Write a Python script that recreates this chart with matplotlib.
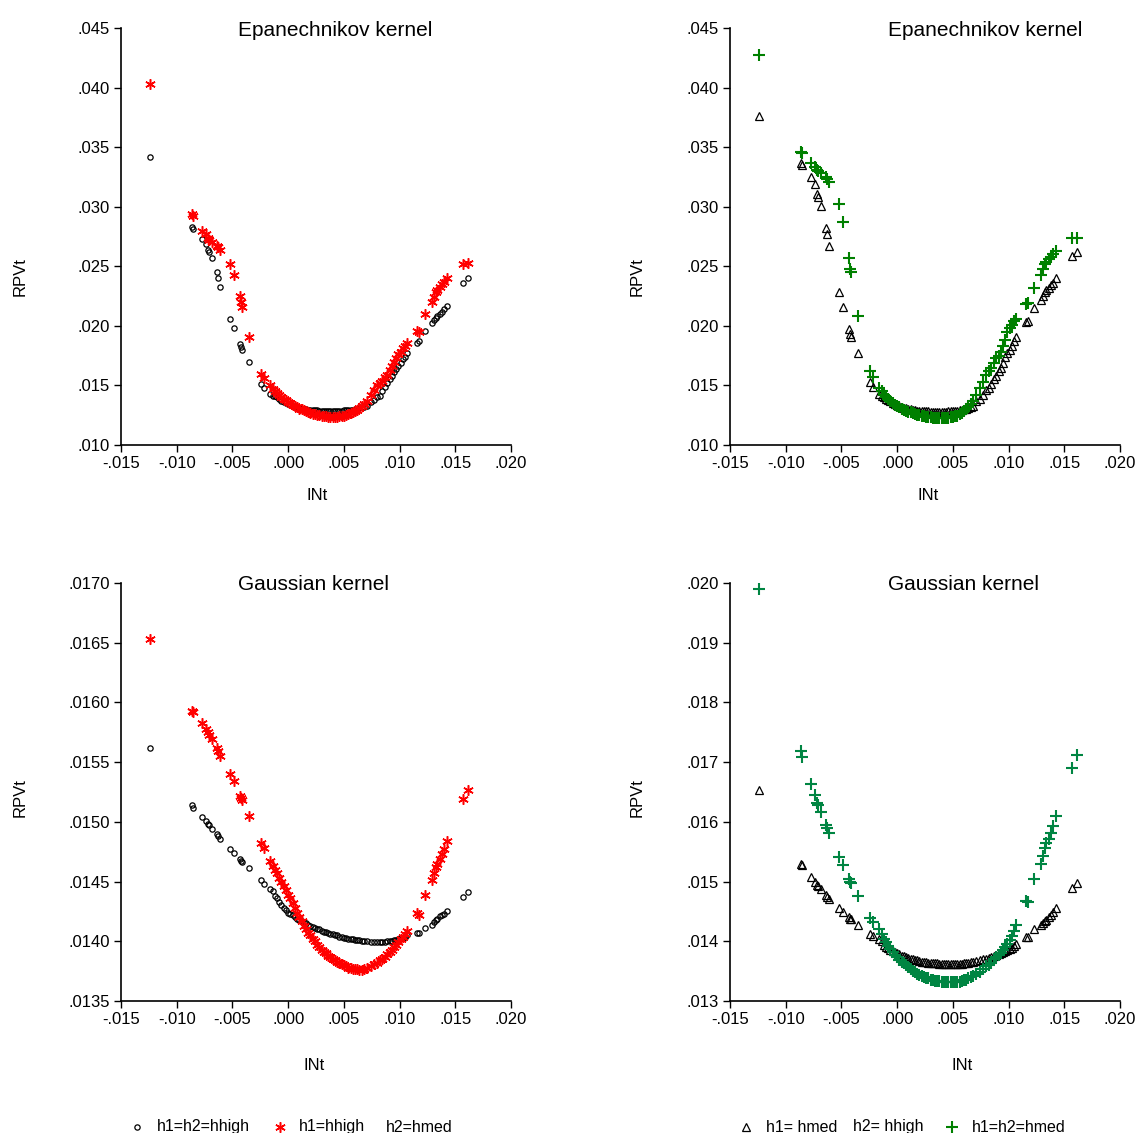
import matplotlib
matplotlib.use("Agg")
import matplotlib.pyplot as plt
from matplotlib.lines import Line2D

plt.rcParams['font.family'] = ['Liberation Sans', 'DejaVu Sans']

# ---------------- data ----------------
int_t = [
    -0.0124, -0.0086, -0.0085, -0.0077, -0.0074, -0.0072, -0.0071, -0.0068, -0.0064, -0.0063,
    -0.0061, -0.0052, -0.0049, -0.0043, -0.0042, -0.0041, -0.0035, -0.0024, -0.0022, -0.0016,
    -0.0014,
    -0.0012, -0.0010, -0.0008, -0.0006, -0.0004, -0.0002, 0.0000, 0.0002, 0.0004, 0.0006,
    0.0008, 0.0010, 0.0012, 0.0014, 0.0016, 0.0018, 0.0020, 0.0022, 0.0024, 0.0026,
    0.0028, 0.0030, 0.0032, 0.0034, 0.0036, 0.0038, 0.0040, 0.0042, 0.0044, 0.0046,
    0.0048, 0.0050, 0.0052, 0.0054, 0.0056, 0.0058, 0.0060, 0.0062, 0.0064, 0.0066,
    0.0068,
    0.0071, 0.0074, 0.0077, 0.0080, 0.0082, 0.0084, 0.0087, 0.0089, 0.0091, 0.0093,
    0.0095, 0.0097, 0.0099, 0.0101, 0.0103, 0.0105, 0.0107,
    0.0116, 0.0117, 0.0123, 0.0129, 0.0131, 0.0133, 0.0134, 0.0136, 0.0138, 0.0140,
    0.0143, 0.0157, 0.0161,
]

# Epanechnikov, h1=h2=hhigh (black circles)
epa_hh = [
    0.0342, 0.0283, 0.0281, 0.0273, 0.0269, 0.0264, 0.0262, 0.0257, 0.0245, 0.0240,
    0.0233, 0.0206, 0.0198, 0.0185, 0.0182, 0.0180, 0.0170, 0.0151, 0.0148, 0.0143,
    0.0141,
    0.01415, 0.01400, 0.01386, 0.01373, 0.01362, 0.01352, 0.01343, 0.01335, 0.01328, 0.01321,
    0.01315, 0.01310, 0.01306, 0.01302, 0.01299, 0.01296, 0.01294, 0.01292, 0.01291, 0.01290,
    0.01289, 0.01288, 0.01288, 0.01287, 0.01287, 0.01287, 0.01287, 0.01287, 0.01288, 0.01288,
    0.01289, 0.01290, 0.01291, 0.01293, 0.01295, 0.01297, 0.01300, 0.01304, 0.01309, 0.01315,
    0.01322,
    0.0133, 0.0136, 0.0138, 0.0140, 0.0141, 0.0145, 0.0149, 0.0152, 0.0155, 0.0158,
    0.0161, 0.0164, 0.0166, 0.0169, 0.0172, 0.0174, 0.0177,
    0.0186, 0.0187, 0.0196, 0.0202, 0.0205, 0.0207, 0.0208, 0.0210, 0.0212, 0.0214,
    0.0217, 0.0236, 0.0240,
]

# Epanechnikov, h1=hhigh h2=hmed (red stars)
epa_hm = [
    0.0403, 0.0294, 0.0292, 0.0280, 0.0277, 0.0274, 0.0272, 0.0270, 0.0267, 0.0266,
    0.0264, 0.0252, 0.0243, 0.0225, 0.0220, 0.0216, 0.0191, 0.0160, 0.0156, 0.0150,
    0.0147,
    0.01450, 0.01435, 0.01418, 0.01403, 0.01390, 0.01375, 0.01362, 0.01350, 0.01338, 0.01327,
    0.01316, 0.01306, 0.01298, 0.01290, 0.01282, 0.01275, 0.01268, 0.01262, 0.01257, 0.01252,
    0.01248, 0.01245, 0.01242, 0.01240, 0.01238, 0.01237, 0.01237, 0.01237, 0.01238, 0.01240,
    0.01243, 0.01247, 0.01252, 0.01258, 0.01265, 0.01274, 0.01284, 0.01296, 0.01310, 0.01326,
    0.01343,
    0.0137, 0.0142, 0.0146, 0.0150, 0.0152, 0.0154, 0.0157, 0.0159, 0.0163, 0.0166,
    0.0170, 0.0173, 0.0176, 0.0178, 0.0181, 0.0183, 0.0186,
    0.0196, 0.0195, 0.0210, 0.0220, 0.0224, 0.0228, 0.0230, 0.0233, 0.0235, 0.0237,
    0.0240, 0.0252, 0.0253,
]

# Epanechnikov, h1=hmed h2=hhigh (triangles)
epa_mh = [
    0.0376, 0.0337, 0.0335, 0.0325, 0.0319, 0.0311, 0.0308, 0.0301, 0.0282, 0.0277,
    0.0267, 0.0228, 0.0216, 0.0197, 0.0193, 0.0191, 0.0177, 0.0153, 0.0149, 0.0143,
    0.0141,
    0.01400, 0.01390, 0.01380, 0.01366, 0.01353, 0.01342, 0.01333, 0.01325, 0.01318, 0.01312,
    0.01307, 0.01302, 0.01298, 0.01294, 0.01291, 0.01289, 0.01287, 0.01285, 0.01284, 0.01283,
    0.01282, 0.01281, 0.01281, 0.01280, 0.01280, 0.01280, 0.01280, 0.01281, 0.01281, 0.01282,
    0.01283, 0.01284, 0.01286, 0.01288, 0.01291, 0.01294, 0.01298, 0.01303, 0.01310, 0.01318,
    0.01328,
    0.0137, 0.0139, 0.0142, 0.0146, 0.0148, 0.0151, 0.0155, 0.0158, 0.0162, 0.0165,
    0.0169, 0.0174, 0.0177, 0.0180, 0.0183, 0.0187, 0.0191,
    0.0203, 0.0204, 0.0215, 0.0222, 0.0225, 0.0228, 0.0230, 0.0232, 0.0234, 0.0236,
    0.0240, 0.0259, 0.0262,
]

# Epanechnikov, h1=h2=hmed (green plus)
epa_mm = [
    0.0427, 0.0346, 0.0345, 0.0337, 0.0333, 0.0331, 0.0330, 0.0328, 0.0325, 0.0323,
    0.0321, 0.0302, 0.0287, 0.0257, 0.0248, 0.0245, 0.0208, 0.0162, 0.0157, 0.0148,
    0.0145,
    0.01420, 0.01400, 0.01382, 0.01366, 0.01352, 0.01339, 0.01327, 0.01316, 0.01306, 0.01297,
    0.01288, 0.01280, 0.01273, 0.01267, 0.01261, 0.01255, 0.01250, 0.01245, 0.01241, 0.01237,
    0.01234, 0.01231, 0.01229, 0.01227, 0.01226, 0.01225, 0.01225, 0.01226, 0.01227, 0.01229,
    0.01232, 0.01236, 0.01241, 0.01247, 0.01256, 0.01268, 0.01282, 0.01300, 0.01320, 0.01343,
    0.01368,
    0.0142, 0.0148, 0.0153, 0.0159, 0.0162, 0.0165, 0.0169, 0.0173, 0.0175, 0.0178,
    0.0183, 0.0188, 0.0195, 0.0198, 0.0201, 0.0204, 0.0206,
    0.0218, 0.0219, 0.0232, 0.0243, 0.0248, 0.0252, 0.0254, 0.0256, 0.0258, 0.0260,
    0.0263, 0.0274, 0.0274,
]

# Gaussian, h1=h2=hhigh (black circles)
gau_hh = [
    0.01562, 0.01514, 0.01512, 0.01504, 0.01501, 0.01498, 0.01497, 0.01494, 0.01490, 0.01488,
    0.01486, 0.01477, 0.01474, 0.01469, 0.01467, 0.01466, 0.01461, 0.01451, 0.01448, 0.01444,
    0.01442,
    0.01438, 0.01436, 0.01433, 0.01430, 0.01428, 0.01426, 0.01424, 0.01423, 0.01422, 0.01420,
    0.01419, 0.01418, 0.01417, 0.01416, 0.01415, 0.01414, 0.01413, 0.01412, 0.01411, 0.01410,
    0.01410, 0.01409, 0.01408, 0.01408, 0.01407, 0.01406, 0.01406, 0.01405, 0.01405, 0.01404,
    0.01404, 0.01403, 0.01403, 0.01402, 0.01402, 0.01402, 0.01401, 0.01401, 0.01401, 0.01400,
    0.01400,
    0.01400, 0.01399, 0.01399, 0.01399, 0.01399, 0.01399, 0.01399, 0.01400, 0.01400, 0.01400,
    0.01401, 0.01401, 0.01402, 0.01403, 0.01403, 0.01404, 0.01405,
    0.01407, 0.01407, 0.01411, 0.01414, 0.01416, 0.01418, 0.01419, 0.01421, 0.01422, 0.01423,
    0.01425, 0.01437, 0.01441,
]

# Gaussian, h1=hhigh h2=hmed (red stars)
gau_hm = [
    0.01653, 0.01593, 0.01592, 0.01583, 0.01578, 0.01575, 0.01573, 0.01569, 0.01562, 0.01559,
    0.01555, 0.01540, 0.01534, 0.01522, 0.01520, 0.01518, 0.01505, 0.01482, 0.01478, 0.01467,
    0.01463,
    0.01460, 0.01457, 0.01453, 0.01450, 0.01446, 0.01443, 0.01439, 0.01436, 0.01432, 0.01428,
    0.01424, 0.01420, 0.01417, 0.01413, 0.01410, 0.01407, 0.01405, 0.01402, 0.01400, 0.01397,
    0.01395, 0.01393, 0.01391, 0.01390, 0.01388, 0.01387, 0.01385, 0.01384, 0.01383, 0.01382,
    0.01381, 0.01380, 0.01379, 0.01378, 0.01378, 0.01377, 0.01377, 0.01377, 0.01376, 0.01376,
    0.01377,
    0.01378, 0.01379, 0.01381, 0.01382, 0.01384, 0.01385, 0.01387, 0.01389, 0.01391, 0.01393,
    0.01395, 0.01397, 0.01399, 0.01402, 0.01404, 0.01406, 0.01409,
    0.01424, 0.01422, 0.01439, 0.01451, 0.01457, 0.01462, 0.01465, 0.01469, 0.01473, 0.01477,
    0.01484, 0.01519, 0.01527,
]

# Gaussian, h1=hmed h2=hhigh (triangles)
gau_mh = [
    0.01653, 0.01530, 0.01528, 0.01508, 0.01499, 0.01494, 0.01492, 0.01487, 0.01478, 0.01474,
    0.01470, 0.01455, 0.01449, 0.01441, 0.01438, 0.01437, 0.01428, 0.01412, 0.01409, 0.01404,
    0.01400,
    0.01394, 0.01391, 0.01389, 0.01386, 0.01384, 0.01382, 0.01380, 0.01378, 0.01376, 0.01375,
    0.01373, 0.01372, 0.01371, 0.01370, 0.01369, 0.01368, 0.01367, 0.01366, 0.01366, 0.01365,
    0.01364, 0.01364, 0.01363, 0.01363, 0.01363, 0.01362, 0.01362, 0.01362, 0.01362, 0.01362,
    0.01362, 0.01362, 0.01362, 0.01362, 0.01362, 0.01362, 0.01363, 0.01363, 0.01364, 0.01365,
    0.01366,
    0.01367, 0.01368, 0.01370, 0.01371, 0.01372, 0.01374, 0.01375, 0.01377, 0.01378, 0.01380,
    0.01382, 0.01383, 0.01385, 0.01387, 0.01389, 0.01392, 0.01395,
    0.01407, 0.01408, 0.01420, 0.01427, 0.01430, 0.01434, 0.01436, 0.01440, 0.01444, 0.01449,
    0.01456, 0.01489, 0.01498,
]

# Gaussian, h1=h2=hmed (green plus)
gau_mm = [
    0.01990, 0.01718, 0.01709, 0.01664, 0.01645, 0.01632, 0.01628, 0.01616, 0.01594, 0.01589,
    0.01581, 0.01541, 0.01527, 0.01504, 0.01500, 0.01497, 0.01476, 0.01439, 0.01433, 0.01421,
    0.01412,
    0.01403, 0.01398, 0.01392, 0.01387, 0.01382, 0.01377, 0.01373, 0.01369, 0.01366, 0.01363,
    0.01360, 0.01357, 0.01354, 0.01351, 0.01349, 0.01346, 0.01344, 0.01342, 0.01340, 0.01339,
    0.01338, 0.01336, 0.01335, 0.01334, 0.01333, 0.01333, 0.01332, 0.01332, 0.01331, 0.01331,
    0.01331, 0.01331, 0.01331, 0.01332, 0.01332, 0.01333, 0.01335, 0.01336, 0.01338, 0.01340,
    0.01342,
    0.01345, 0.01349, 0.01354, 0.01358, 0.01361, 0.01364, 0.01370, 0.01373, 0.01377, 0.01381,
    0.01385, 0.01390, 0.01396, 0.01402, 0.01409, 0.01418, 0.01428,
    0.01468, 0.01466, 0.01504, 0.01530, 0.01543, 0.01556, 0.01564, 0.01572, 0.01582, 0.01593,
    0.01610, 0.01691, 0.01712,
]

x_ticks = [-0.015, -0.010, -0.005, 0.000, 0.005, 0.010, 0.015, 0.020]
x_ticklabels = ["-.015", "-.010", "-.005", ".000", ".005", ".010", ".015", ".020"]
epa_yticks = [0.010, 0.015, 0.020, 0.025, 0.030, 0.035, 0.040, 0.045]
epa_yticklabels = [".010", ".015", ".020", ".025", ".030", ".035", ".040", ".045"]
gl_yticks = [0.0135, 0.0140, 0.0145, 0.0150, 0.0155, 0.0160, 0.0165, 0.0170]
gl_yticklabels = [".0135", ".0140", ".0145", ".0150", ".0155", ".0160", ".0165", ".0170"]
gr_yticks = [0.013, 0.014, 0.015, 0.016, 0.017, 0.018, 0.019, 0.020]
gr_yticklabels = [".013", ".014", ".015", ".016", ".017", ".018", ".019", ".020"]

titles = ["Epanechnikov kernel", "Epanechnikov kernel", "Gaussian kernel", "Gaussian kernel"]
legend_left = ["h1=h2=hhigh", "h1=hhigh", "h2=hmed"]
legend_right = ["h1= hmed", "h2= hhigh", "h1=h2=hmed"]

# ---------------- styles ----------------
RED = "#FF0000"
GREEN_TOP = "#008000"
GREEN_BOT = "#008542"
STAR = (6, 2, 0)

circ_style = dict(marker="o", ms=3.8, mfc="none", mec="black", mew=0.9, ls="none")
star_style = dict(marker=STAR, ms=7.5, mec=RED, mfc=RED, mew=1.1, ls="none")
tri_style = dict(marker="^", ms=5.4, mfc="none", mec="black", mew=0.9, ls="none")
plus_kw = dict(ls="none", marker="+", ms=8.5, mew=1.5)

W, H = 1138, 1133
fig = plt.figure(figsize=(W / 100, H / 100), dpi=100)


def fx(px):
    return px / W


def fy(py):
    return 1 - py / H


def make_axes(left, top, right, bottom):
    return fig.add_axes([fx(left), fy(bottom), fx(right - left), (bottom - top) / H])


def style_axes(ax, yticks, ylabels):
    ax.set_xlim(x_ticks[0], x_ticks[-1])
    ax.set_ylim(yticks[0], yticks[-1])
    ax.set_xticks(x_ticks)
    ax.set_xticklabels(x_ticklabels)
    ax.set_yticks(yticks)
    ax.set_yticklabels(ylabels)
    for s in ["top", "right"]:
        ax.spines[s].set_visible(False)
    for s in ["left", "bottom"]:
        ax.spines[s].set_linewidth(1.2)
    ax.tick_params(direction="out", length=5, width=1.0, labelsize=12, pad=3)
    ax.patch.set_alpha(0)


ax1 = make_axes(121, 28, 511, 445)
ax2 = make_axes(730, 28, 1120, 445)
ax3 = make_axes(121, 583, 511, 1001)
ax4 = make_axes(730, 583, 1120, 1001)

ax1.plot(int_t, epa_hh, clip_on=False, **circ_style)
ax1.plot(int_t, epa_hm, clip_on=False, **star_style)
style_axes(ax1, epa_yticks, epa_yticklabels)

ax2.plot(int_t, epa_mh, clip_on=False, **tri_style)
ax2.plot(int_t, epa_mm, color=GREEN_TOP, clip_on=False, **plus_kw)
style_axes(ax2, epa_yticks, epa_yticklabels)

ax3.plot(int_t, gau_hh, clip_on=False, **circ_style)
ax3.plot(int_t, gau_hm, clip_on=False, **star_style)
style_axes(ax3, gl_yticks, gl_yticklabels)

ax4.plot(int_t, gau_mh, clip_on=False, **tri_style)
ax4.plot(int_t, gau_mm, color=GREEN_BOT, clip_on=False, **plus_kw)
style_axes(ax4, gr_yticks, gr_yticklabels)

# titles
title_pos = [(335, 30), (985, 30), (313, 585), (963, 584)]
for t, (px, py) in zip(titles, title_pos):
    fig.text(fx(px), fy(py), t, ha="center", va="center", fontsize=15)

# axis labels
for px, py in [(20, 277), (637, 277), (20, 798), (637, 798)]:
    fig.text(fx(px), fy(py), "RPVt", rotation=90, ha="center", va="center", fontsize=12)
for px, py in [(317, 495), (928, 495), (314, 1065), (962, 1065)]:
    fig.text(fx(px), fy(py), "INt", ha="center", va="center", fontsize=12)

# legends
ly = 1127
fig.add_artist(Line2D([fx(137)], [fy(ly)], transform=fig.transFigure, **circ_style))
fig.text(fx(157), fy(ly), legend_left[0], ha="left", va="center", fontsize=11.5)
fig.add_artist(Line2D([fx(280)], [fy(ly)], transform=fig.transFigure, **star_style))
fig.text(fx(299), fy(ly), legend_left[1], ha="left", va="center", fontsize=11.5)
fig.text(fx(386), fy(ly), legend_left[2], ha="left", va="center", fontsize=11.5)

fig.add_artist(Line2D([fx(746)], [fy(ly)], transform=fig.transFigure, **tri_style))
fig.text(fx(766), fy(ly), legend_right[0], ha="left", va="center", fontsize=11.5)
fig.text(fx(853), fy(ly), legend_right[1], ha="left", va="center", fontsize=11.5)
fig.add_artist(Line2D([fx(952)], [fy(ly)], transform=fig.transFigure,
                      color=GREEN_TOP, **plus_kw))
fig.text(fx(972), fy(ly), legend_right[2], ha="left", va="center", fontsize=11.5)

fig.savefig("out.png", dpi=100)
